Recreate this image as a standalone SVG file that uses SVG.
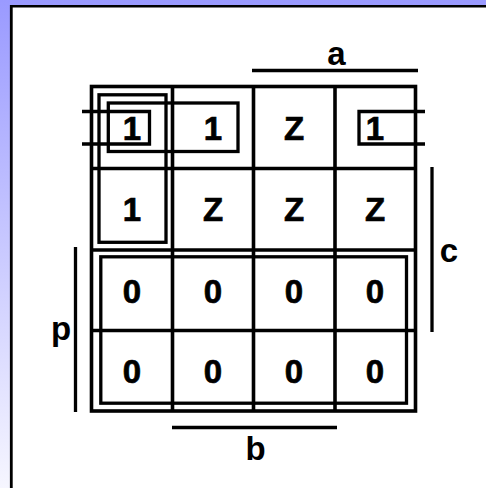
<svg xmlns="http://www.w3.org/2000/svg" width="486" height="488" viewBox="0 0 486 488">
  <defs>
    <linearGradient id="bg" x1="0" y1="0" x2="0" y2="1">
      <stop offset="0" stop-color="#9a9aff"/>
      <stop offset="1" stop-color="#f6f6ff"/>
    </linearGradient>
  </defs>
  <style>
    .ln { stroke: #000; stroke-width: 3.6; fill: none; }
    .lp { stroke: #000; stroke-width: 3.3; fill: none; }
    .v { font-family: "Liberation Sans", Arial, sans-serif; font-weight: bold; font-size: 33px; text-anchor: middle; fill: #000; stroke: #000; stroke-width: 0.7; }
    .lbl { font-family: "Liberation Sans", Arial, sans-serif; font-weight: bold; font-size: 33px; text-anchor: middle; fill: #000; }
  </style>
  <rect x="0" y="0" width="486" height="488" fill="url(#bg)"/>
  <rect x="11" y="6" width="475" height="482" fill="#fff"/>
  <line x1="11.3" y1="5" x2="11.3" y2="488" stroke="#000" stroke-width="2.8"/>
  <line x1="10" y1="6.2" x2="486" y2="6.2" stroke="#000" stroke-width="2.6"/>

  <g id="grid">
    <rect class="ln" x="91.5" y="86.5" width="324" height="324.5"/>
    <line class="ln" x1="172.5" y1="86.5" x2="172.5" y2="411"/>
    <line class="ln" x1="253.5" y1="86.5" x2="253.5" y2="411"/>
    <line class="ln" x1="335" y1="86.5" x2="335" y2="411"/>
    <line class="ln" x1="91.5" y1="168.5" x2="415.5" y2="168.5"/>
    <line class="ln" x1="91.5" y1="250" x2="415.5" y2="250"/>
    <line class="ln" x1="91.5" y1="330.5" x2="415.5" y2="330.5"/>
  </g>

  <g id="cells">
    <text class="v" x="132" y="139.5">1</text>
    <text class="v" x="213" y="139.5">1</text>
    <text class="v" x="294" y="139.5">Z</text>
    <text class="v" x="375" y="139.5">1</text>
    <text class="v" x="132" y="221">1</text>
    <text class="v" x="213" y="221">Z</text>
    <text class="v" x="294" y="221">Z</text>
    <text class="v" x="375" y="221">Z</text>
    <text class="v" x="132" y="302.5">0</text>
    <text class="v" x="213" y="302.5">0</text>
    <text class="v" x="294" y="302.5">0</text>
    <text class="v" x="375" y="302.5">0</text>
    <text class="v" x="132" y="383">0</text>
    <text class="v" x="213" y="383">0</text>
    <text class="v" x="294" y="383">0</text>
    <text class="v" x="375" y="383">0</text>
  </g>

  <g id="loops">
    <rect class="lp" x="99" y="94.8" width="67" height="147.5"/>
    <rect class="lp" x="108.3" y="103" width="129.7" height="48.5"/>
    <polyline class="lp" points="82,111.5 149.5,111.5 149.5,144 82,144"/>
    <polyline class="lp" points="425,111.5 359,111.5 359,144 425,144"/>
    <rect class="lp" x="100.8" y="256.8" width="305.7" height="146.4"/>
  </g>

  <g id="bars">
    <line class="lp" x1="252" y1="70.5" x2="418" y2="70.5"/>
    <line class="lp" x1="432" y1="167" x2="432" y2="332"/>
    <line class="lp" x1="75.5" y1="247" x2="75.5" y2="412"/>
    <line class="lp" x1="172" y1="427.5" x2="337" y2="427.5"/>
  </g>

  <g id="labels">
    <text class="lbl" x="336.5" y="65">a</text>
    <text class="lbl" x="449" y="262">c</text>
    <text class="lbl" x="61" y="340">p</text>
    <text class="lbl" x="255.5" y="460">b</text>
  </g>
</svg>
